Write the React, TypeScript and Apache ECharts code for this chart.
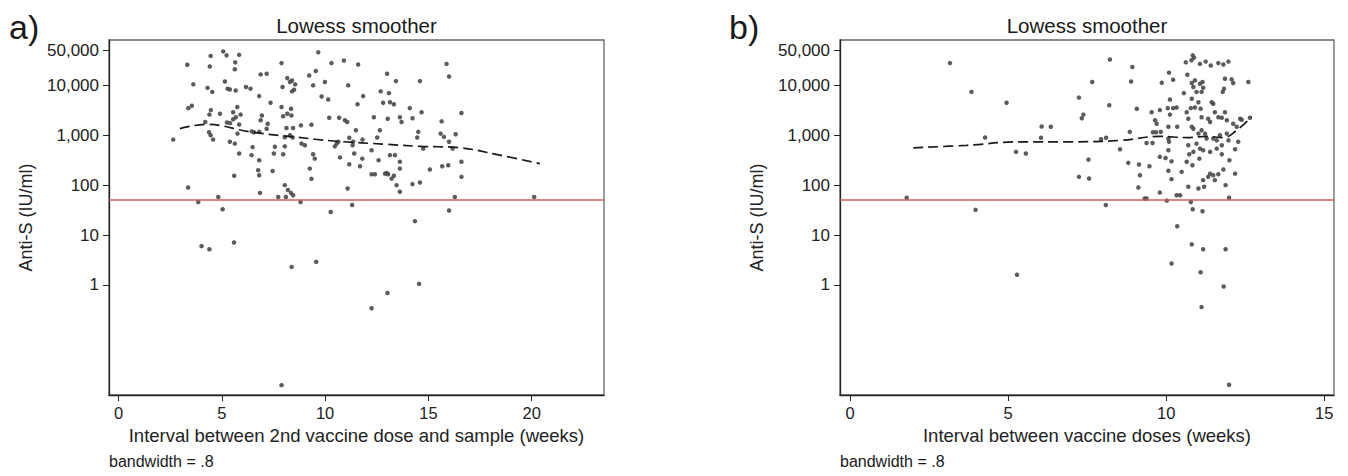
import React, { useEffect, useRef } from "react";
import * as echarts from "echarts";

// ---------- data ----------
// Panel a: [weeks since 2nd dose, anti-S IU/ml]
const aPoints: number[][] = [
  [2.65, 820], [3.33, 26000], [3.62, 10500], [3.38, 3500], [3.55, 3900], [3.37, 90], [3.86, 46],
  [4.46, 39000], [4.42, 24000], [4.31, 8900], [4.54, 7400], [4.47, 3200], [4.4, 2600], [4.2, 1850],
  [4.38, 1150], [4.46, 1000], [4.58, 820], [4.83, 58], [5.04, 33], [5.07, 48000], [5.23, 40000],
  [5.65, 29000], [5.63, 21000], [5.84, 41000], [5.15, 12000], [5.28, 8600], [5.39, 8300], [5.67, 7900],
  [4.91, 2700], [5.55, 2900], [5.75, 3700], [5.68, 2300], [5.55, 2100], [5.91, 2600], [5.25, 1800],
  [5.4, 1750], [5.84, 1650], [5.76, 1080], [5.39, 740], [5.63, 680], [5.84, 430], [5.6, 154],
  [6.17, 9300], [6.39, 8600], [6.81, 6100], [6.88, 16600], [7.17, 17100], [6.94, 2500], [6.88, 2000],
  [6.45, 1200], [6.55, 1150], [6.81, 1170], [6.49, 580], [6.44, 400], [6.81, 316], [6.76, 200],
  [6.81, 158], [6.85, 70], [7.46, 193], [7.52, 430], [7.57, 590], [7.36, 4500], [7.22, 1700],
  [7.17, 1350], [7.89, 28000], [7.94, 9300], [8.17, 14000], [8.3, 11700], [8.4, 12500], [8.55, 10500],
  [8.5, 8200], [8.4, 7600], [7.89, 3700], [7.97, 2400], [8.17, 2700], [8.35, 3400], [8.37, 2500],
  [8.13, 1400], [8.45, 1400], [8.3, 1000], [8.43, 900], [8.05, 910], [8.83, 1580], [8.86, 680],
  [9.02, 630], [8.05, 600], [7.97, 417], [8.05, 100], [8.2, 80], [8.35, 70], [8.45, 63], [8.1, 58],
  [7.73, 58], [8.81, 46], [9.26, 215], [9.34, 134], [9.42, 417], [9.5, 340], [9.34, 1630],
  [9.42, 10000], [9.23, 15800], [9.55, 19400], [9.67, 46000],
  [10.31, 28000], [10.91, 31600], [11.6, 26300], [9.99, 11700], [11.12, 10000], [9.83, 6000],
  [10.15, 5200], [11.84, 6100], [11.57, 4200], [13.0, 17100], [13.43, 12200], [12.69, 7600],
  [13.09, 7000], [12.81, 4500], [13.14, 4600], [13.33, 4200], [14.59, 12200], [15.88, 27000],
  [16.0, 15100], [14.1, 3500], [14.67, 2900], [14.23, 2200], [13.62, 2300], [13.7, 1850],
  [13.03, 2150], [12.36, 2300], [15.64, 1900], [16.6, 2800], [10.2, 2250], [10.68, 2250],
  [10.96, 2000], [11.07, 1850], [11.49, 1260], [12.65, 1260], [12.52, 900], [11.81, 820],
  [11.17, 890], [11.36, 740], [11.33, 630], [10.47, 600], [10.56, 680], [10.64, 740], [12.25, 500],
  [11.41, 430], [10.72, 360], [11.8, 340], [11.17, 263], [11.69, 240], [12.59, 316], [13.14, 400],
  [13.38, 400], [13.62, 295], [13.62, 215], [12.25, 166], [12.41, 166], [12.9, 170], [12.98, 175],
  [13.05, 165], [13.22, 135], [13.33, 154], [13.46, 100], [13.62, 74], [14.23, 105], [14.59, 113],
  [14.51, 1170], [14.46, 900], [14.75, 540], [15.07, 206], [15.59, 1080], [15.75, 930], [16.0, 740],
  [16.17, 540], [16.32, 1050], [15.67, 240], [15.96, 250], [16.6, 295], [16.6, 147], [16.28, 58],
  [20.12, 58], [16.0, 31], [14.35, 19], [11.31, 40], [10.27, 29], [11.09, 86],
  [4.02, 6.0], [4.4, 5.2], [5.59, 7.1], [8.38, 2.3], [9.57, 2.9], [7.89, 0.0098], [12.25, 0.34],
  [13.02, 0.69], [14.55, 1.05],
];

const aLowess: number[][] = [
  [2.97, 1360], [4.26, 1660], [6.36, 1170], [8.46, 930], [10.56, 760], [12.98, 660],
  [14.59, 600], [16.36, 570], [18.46, 400], [20.4, 270],
];

// Panel b: [weeks between doses, anti-S IU/ml]
const bPoints: number[][] = [
  [1.79, 56], [3.16, 28000], [3.84, 7400], [3.97, 32], [4.27, 900], [4.95, 4500], [5.25, 465],
  [5.56, 430], [5.28, 1.6],
  [8.22, 33000], [8.93, 23300], [8.89, 12000], [7.66, 11700], [7.24, 5700], [8.2, 4000], [7.38, 2600],
  [7.33, 2200], [6.06, 1500], [6.35, 1480], [6.04, 890], [7.94, 830], [8.1, 890], [8.54, 525],
  [8.85, 1170], [7.54, 325], [7.24, 147], [7.56, 136], [8.09, 40], [8.8, 280], [9.14, 260],
  [9.17, 158], [9.12, 90], [9.32, 54], [9.38, 54], [9.47, 240], [9.07, 3400], [9.38, 700],
  [9.57, 700], [9.54, 2900], [9.65, 2000], [9.7, 1700], [9.68, 1150], [9.58, 1150], [9.83, 1170],
  [9.8, 3200], [9.86, 11300], [10.09, 18000], [10.22, 13000], [10.12, 5200], [10.05, 3500],
  [10.22, 3500], [10.33, 3600], [10.12, 2600], [10.07, 1480], [10.35, 1480], [9.8, 370], [9.98, 350],
  [10.07, 850], [10.09, 740], [10.07, 500], [10.17, 300], [10.07, 195], [10.17, 132], [9.8, 71],
  [10.02, 49], [10.33, 63], [10.44, 63], [10.35, 15], [10.17, 2.7], [10.49, 185], [10.65, 295],
  [10.56, 7000], [10.67, 16300], [10.62, 29000], [10.8, 32000], [10.84, 40000], [10.88, 36000],
  [10.81, 11200], [10.91, 12600], [10.86, 9300], [10.96, 7400], [11.07, 10800], [11.15, 11700],
  [11.12, 7400], [11.17, 9000], [11.07, 27000], [11.25, 30000], [11.41, 25000], [11.65, 28000],
  [11.81, 26300], [11.97, 30000], [11.86, 13600], [12.07, 13200], [12.12, 11200], [11.83, 8600],
  [11.79, 7400], [12.6, 11700], [10.81, 5400], [11.02, 4600], [10.91, 3600], [11.09, 3400],
  [10.78, 3500], [11.44, 4600], [11.49, 4300], [11.54, 2900], [11.12, 2300], [11.33, 2150],
  [11.39, 1850], [11.65, 2300], [11.76, 2250], [11.92, 2000], [11.86, 2900], [12.12, 1700],
  [12.34, 2150], [12.23, 1480], [12.39, 2050], [12.65, 2250], [10.65, 2900], [10.7, 2150],
  [10.81, 1480], [10.86, 1350], [11.02, 1080], [11.12, 1260], [11.23, 1080], [11.28, 860],
  [11.49, 860], [11.6, 790], [11.7, 1000], [11.92, 1080], [11.76, 630], [11.97, 790], [12.28, 740],
  [10.7, 630], [10.96, 680], [11.07, 540], [11.17, 500], [10.86, 465], [10.73, 417], [11.39, 465],
  [11.6, 540], [11.76, 417], [12.18, 525], [10.83, 250], [11.05, 340], [11.39, 170], [11.33, 147],
  [11.49, 158], [11.65, 166], [11.17, 126], [11.2, 93], [11.02, 86], [10.7, 93], [11.54, 126],
  [11.81, 206], [12.0, 316], [11.88, 100], [12.18, 170], [11.99, 56], [10.84, 33], [11.15, 30],
  [10.81, 6.5], [11.17, 5.2], [11.88, 5.2], [10.78, 46],
  [11.09, 1.8], [11.82, 0.93], [11.12, 0.36], [11.99, 0.01],
];

const bLowess: number[][] = [
  [2.0, 560], [3.69, 630], [5.37, 740], [6.96, 740], [8.54, 790], [9.8, 950], [10.65, 900],
  [11.28, 950], [11.81, 900], [12.23, 1260], [12.7, 2330],
];

const yTickValues = [1, 10, 100, 1000, 10000, 50000];
const xTicksA = [0, 5, 10, 15, 20];
const xTicksB = [0, 5, 10, 15];
const threshold = 50;

const titleText = "Lowess smoother";
const yName = "Anti-S (IU/ml)";
const xNameA = "Interval between 2nd vaccine dose and sample (weeks)";
const xNameB = "Interval between vaccine doses (weeks)";
const noteText = "bandwidth = .8";

// ---------- helpers ----------
const FONT = '"Liberation Sans", Arial, Helvetica, sans-serif';
const toLog = (pts: number[][]) => pts.map(([x, v]) => [x, Math.log10(v)]);
const yTickLogs = yTickValues.map((v) => Math.log10(v));
const fmt = (v: number) => Math.round(Math.pow(10, v)).toLocaleString("en-US");

const Y_MIN = -2.206;
const Y_MAX = 4.91;

const GRID_A = { left: 109, top: 40, width: 495, height: 355 };
const GRID_B = { left: 840, top: 40, width: 494, height: 355 };

function xAxisFor(gridIndex: number, min: number, max: number, ticks: number[], name: string) {
  return {
    type: "value",
    gridIndex,
    min,
    max,
    position: "bottom",
    name,
    nameLocation: "middle",
    nameGap: 31,
    nameTextStyle: { fontFamily: FONT, fontSize: 18.5, color: "#222" },
    axisLine: { show: true, onZero: false, lineStyle: { color: "#222", width: 1.3 } },
    axisTick: { show: true, customValues: ticks, length: 6, lineStyle: { color: "#222" } },
    axisLabel: { customValues: ticks, margin: 9, fontFamily: FONT, fontSize: 16.5, color: "#222" },
    splitLine: { show: false },
  };
}

function yAxisFor(gridIndex: number) {
  return {
    type: "value",
    gridIndex,
    min: Y_MIN,
    max: Y_MAX,
    position: "left",
    name: yName,
    nameLocation: "middle",
    nameRotate: 90,
    nameGap: 74,
    nameTextStyle: { fontFamily: FONT, fontSize: 18, color: "#222" },
    axisLine: { show: true, onZero: false, lineStyle: { color: "#222", width: 1.3 } },
    axisTick: { show: true, customValues: yTickLogs, length: 6, lineStyle: { color: "#222" } },
    axisLabel: {
      customValues: yTickLogs,
      formatter: (v: number) => fmt(v),
      margin: 10,
      fontFamily: FONT,
      fontSize: 17,
      color: "#222",
    },
    splitLine: { show: false },
  };
}

function seriesFor(idx: number, pts: number[][], lowess: number[][]) {
  return [
    {
      type: "scatter",
      xAxisIndex: idx,
      yAxisIndex: idx,
      data: toLog(pts),
      symbol: "circle",
      symbolSize: 4.5,
      itemStyle: { color: "#4a4a4a", opacity: 0.9 },
      markLine: {
        silent: true,
        symbol: "none",
        label: { show: false },
        lineStyle: { color: "#d45a5e", width: 1.6, type: "solid" },
        data: [{ yAxis: Math.log10(threshold) }],
      },
      z: 3,
    },
    {
      type: "line",
      xAxisIndex: idx,
      yAxisIndex: idx,
      data: toLog(lowess),
      smooth: 0.4,
      showSymbol: false,
      symbol: "none",
      lineStyle: { color: "#1a1a1a", width: 1.7, type: [10, 5] },
      z: 4,
    },
  ];
}

function textEl(text: string, x: number, y: number, size: number, align = "center") {
  return {
    type: "text",
    x,
    y,
    style: {
      text,
      fill: "#1a1a1a",
      font: `${size}px ${FONT}`,
      textAlign: align,
      textVerticalAlign: "middle",
    },
  };
}

export default function App() {
  const ref = useRef<HTMLDivElement>(null);

  useEffect(() => {
    if (!ref.current) return;
    const chart = echarts.init(ref.current, undefined, { renderer: "svg" });
    const option = {
      animation: false,
      backgroundColor: "#ffffff",
      grid: [
        { ...GRID_A, show: true, borderColor: "#666", borderWidth: 1.3, backgroundColor: "transparent" },
        { ...GRID_B, show: true, borderColor: "#666", borderWidth: 1.3, backgroundColor: "transparent" },
      ],
      xAxis: [
        xAxisFor(0, -0.46, 23.5, xTicksA, xNameA),
        xAxisFor(1, -0.32, 15.31, xTicksB, xNameB),
      ],
      yAxis: [yAxisFor(0), yAxisFor(1)],
      series: [...seriesFor(0, aPoints, aLowess), ...seriesFor(1, bPoints, bLowess)],
      graphic: [
        textEl("a)", 9, 27, 34, "left"),
        textEl("b)", 729, 27, 34, "left"),
        textEl(titleText, GRID_A.left + GRID_A.width / 2, 25, 20.5),
        textEl(titleText, GRID_B.left + GRID_B.width / 2, 25, 20.5),
        textEl(noteText, GRID_A.left, 461, 16, "left"),
        textEl(noteText, GRID_B.left, 461, 16, "left"),
      ],
    };
    chart.setOption(option as any);
    return () => chart.dispose();
  }, []);

  return (
    <div
      ref={ref}
      style={{ position: "fixed", left: 0, top: 0, width: 1348, height: 476, background: "#fff" }}
    />
  );
}
